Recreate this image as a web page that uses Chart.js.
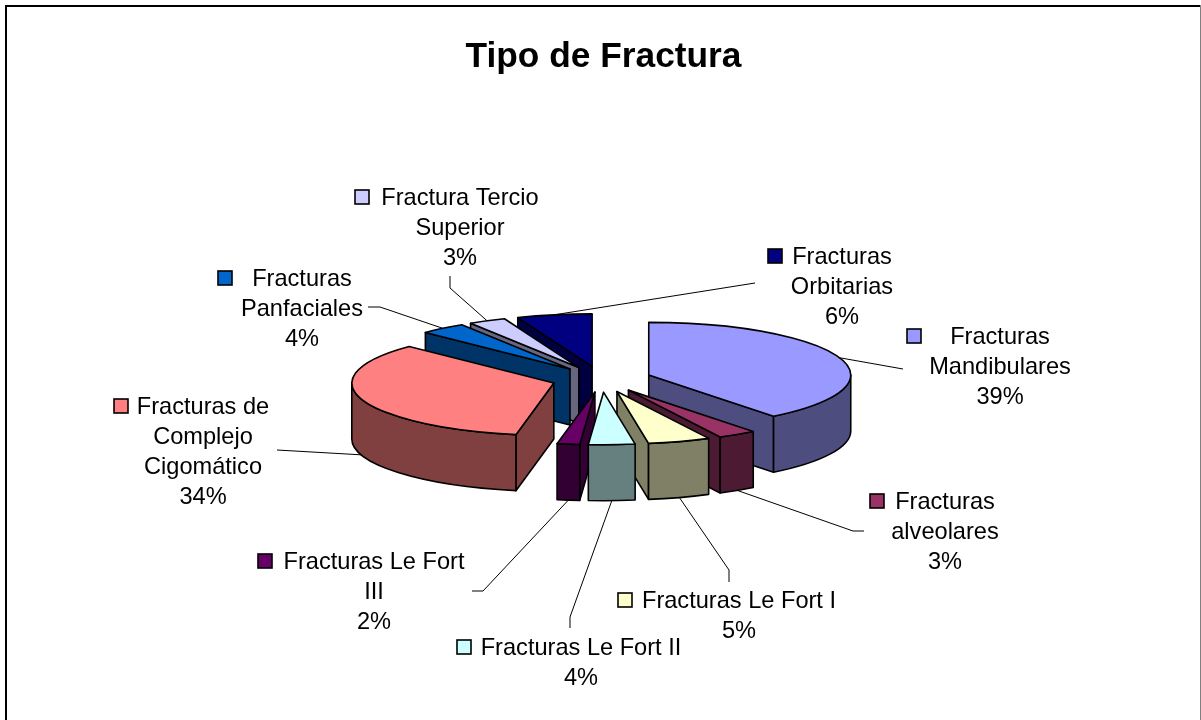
<!DOCTYPE html>
<html>
<head>
<meta charset="utf-8">
<title>Tipo de Fractura</title>
<script src="https://cdn.jsdelivr.net/npm/chart.js@4"></script>
<style>
    html, body { margin: 0; padding: 0; background: #fff; overflow: hidden; }
    canvas { display: block; }
</style>
</head>
<body>
<canvas id="fractura-pie" width="1201" height="720"></canvas>
<script>
'use strict';

// Section 1: data
const categories = [
    "Fracturas Mandibulares",
    "Fracturas alveolares",
    "Fracturas Le Fort I",
    "Fracturas Le Fort II",
    "Fracturas Le Fort III",
    "Fracturas de Complejo Cigomático",
    "Fracturas Panfaciales",
    "Fractura Tercio Superior",
    "Fracturas Orbitarias",
];
// the printed labels are rounded, these come from the slice widths
const percentages = [39.4, 3.1, 5, 3.7, 1.8, 34.3, 3.7, 3, 6];
const sliceColors = ["#9999FF", "#993366", "#FFFFCC", "#CCFFFF", "#660066", "#FF8080", "#0066CC", "#CCCCFF", "#000080"];
const wallColors = ["#4D4D80", "#4D1A33", "#808066", "#668080", "#330033", "#804040", "#003366", "#666680", "#000040"];

// how the label text is wrapped, percent line is added from the data
const labelLines = [
    ["Fracturas", "Mandibulares"],
    ["Fracturas", "alveolares"],
    ["Fracturas Le Fort I"],
    ["Fracturas Le Fort II"],
    ["Fracturas Le Fort", "III"],
    ["Fracturas de", "Complejo", "Cigomático"],
    ["Fracturas", "Panfaciales"],
    ["Fractura Tercio", "Superior"],
    ["Fracturas", "Orbitarias"],
];

// Section 2: layout of the labels, legend keys and leader lines
const labelCenterX = [1000, 945, 739, 581, 374, 203, 302, 460, 842];
const labelTopY = [336, 501, 600, 647, 561, 406, 278, 197, 256];
const keyX = [914, 877, 625, 464, 265, 121, 225, 362, 775];
const leaderPaths = [
    [[903, 369]],
    [[853, 531], [864, 531]],
    [[729, 570], [729, 582]],
    [[570, 617], [570, 628]],
    [[483, 591], [472, 591]],
    [[277, 450]],
    [[380, 307], [368, 307]],
    [[450, 288], [450, 276]],
    [[755, 283]],
];

const TILT = 0.26;
const DEPTH = 56;
const EXPLODE = 50;
const LINE_HEIGHT = 30.3;

// apex of a slice once it is pulled out of the pie
function sliceApex(arc) {
    const mid = (arc.startAngle + arc.endAngle) / 2;
    return {
        x: arc.x + Math.cos(mid) * EXPLODE,
        y: arc.y + Math.sin(mid) * EXPLODE * TILT,
    };
}

function rimPoint(apex, arc, angle) {
    return {
        x: apex.x + Math.cos(angle) * arc.outerRadius,
        y: apex.y + Math.sin(angle) * arc.outerRadius * TILT,
    };
}

function fillAndStroke(ctx, fill) {
    ctx.fillStyle = fill;
    ctx.fill();
    ctx.stroke();
}

function drawRadialWall(ctx, apex, rim, fill) {
    ctx.beginPath();
    ctx.moveTo(apex.x, apex.y);
    ctx.lineTo(rim.x, rim.y);
    ctx.lineTo(rim.x, rim.y + DEPTH);
    ctx.lineTo(apex.x, apex.y + DEPTH);
    ctx.closePath();
    fillAndStroke(ctx, fill);
}

function drawSlice(ctx, arc, index) {
    const apex = sliceApex(arc);
    const radiusY = arc.outerRadius * TILT;
    const wall = wallColors[index];

    // only the cut faces turned to the viewer
    if (Math.cos(arc.startAngle) < 0) {
        drawRadialWall(ctx, apex, rimPoint(apex, arc, arc.startAngle), wall);
    }
    if (Math.cos(arc.endAngle) > 0) {
        drawRadialWall(ctx, apex, rimPoint(apex, arc, arc.endAngle), wall);
    }

    // outer wall, only the part that faces the viewer
    const from = Math.max(arc.startAngle, 0);
    const to = Math.min(arc.endAngle, Math.PI);
    if (to > from) {
        ctx.beginPath();
        ctx.ellipse(apex.x, apex.y, arc.outerRadius, radiusY, 0, from, to);
        ctx.ellipse(apex.x, apex.y + DEPTH, arc.outerRadius, radiusY, 0, to, from, true);
        ctx.closePath();
        fillAndStroke(ctx, wall);
    }

    ctx.beginPath();
    ctx.moveTo(apex.x, apex.y);
    ctx.ellipse(apex.x, apex.y, arc.outerRadius, radiusY, 0, arc.startAngle, arc.endAngle);
    ctx.closePath();
    fillAndStroke(ctx, sliceColors[index]);
}

const pie3d = {
    id: "pie3d",
    beforeDatasetsDraw(chart) {
        const ctx = chart.ctx;
        const arcs = chart.getDatasetMeta(0).data;
        // back to front
        const order = arcs.map((arc, i) => i).sort((a, b) =>
            Math.sin((arcs[a].startAngle + arcs[a].endAngle) / 2) -
            Math.sin((arcs[b].startAngle + arcs[b].endAngle) / 2));
        ctx.save();
        ctx.strokeStyle = "#000";
        ctx.lineWidth = 1.6;
        ctx.lineJoin = "round";
        for (const i of order) {
            drawSlice(ctx, arcs[i], i);
        }
        ctx.restore();
        return false;
    },
};

const outsideLabels = {
    id: "outsideLabels",
    afterDraw(chart) {
        const ctx = chart.ctx;
        const arcs = chart.getDatasetMeta(0).data;
        ctx.save();
        arcs.forEach((arc, i) => {
            // leader line starts on the slice edge
            const mid = (arc.startAngle + arc.endAngle) / 2;
            const start = rimPoint(sliceApex(arc), arc, mid);
            ctx.beginPath();
            ctx.strokeStyle = "#000";
            ctx.lineWidth = 1;
            ctx.moveTo(start.x, start.y + (Math.sin(mid) > 0.2 ? DEPTH : 0));
            for (const point of leaderPaths[i]) {
                ctx.lineTo(point[0], point[1]);
            }
            ctx.stroke();

            ctx.font = '23.6px "Liberation Sans"';
            ctx.fillStyle = "#000";
            ctx.textAlign = "center";
            ctx.textBaseline = "middle";
            const lines = labelLines[i].concat(`${Math.round(percentages[i])}%`);
            lines.forEach((line, n) => {
                ctx.fillText(line, labelCenterX[i], labelTopY[i] + 1 + n * LINE_HEIGHT);
            });

            ctx.fillStyle = sliceColors[i];
            ctx.lineWidth = 1.6;
            ctx.fillRect(keyX[i] - 7, labelTopY[i] - 7, 14, 14);
            ctx.strokeRect(keyX[i] - 7, labelTopY[i] - 7, 14, 14);
        });
        ctx.restore();
    },
};

const chartFrame = {
    id: "chartFrame",
    afterLayout(chart) {
        // the title sits a little right of the pie centre
        chart.titleBlock.left += 4;
    },
    beforeDraw(chart) {
        const ctx = chart.ctx;
        ctx.save();
        ctx.fillStyle = "#fff";
        ctx.fillRect(0, 0, chart.width, chart.height);
        ctx.fillStyle = "#000";
        ctx.fillRect(5, 5, 1195, 2);
        ctx.fillRect(5, 5, 2, 715);
        ctx.fillStyle = "#808080";
        ctx.fillRect(1200, 5, 1, 715);
        ctx.restore();
    },
};

// Section 3: the chart
const pieCtx = document.querySelector("#fractura-pie");

new Chart(pieCtx, {
    type: "pie",
    data: {
        labels: categories,
        datasets: [
            {
                data: percentages,
                backgroundColor: sliceColors,
                borderColor: "#000",
                radius: 202,
            },
        ],
    },
    options: {
        responsive: false,
        animation: false,
        layout: {
            padding: { left: 2, bottom: 40 },
        },
        plugins: {
            legend: { display: false },
            tooltip: { enabled: false },
            title: {
                display: true,
                text: "Tipo de Fractura",
                color: "#000",
                font: { family: '"Liberation Sans"', size: 35.3, weight: "bold" },
                padding: { top: 36, bottom: 0 },
            },
        },
    },
    plugins: [chartFrame, pie3d, outsideLabels],
});
</script>
</body>
</html>
